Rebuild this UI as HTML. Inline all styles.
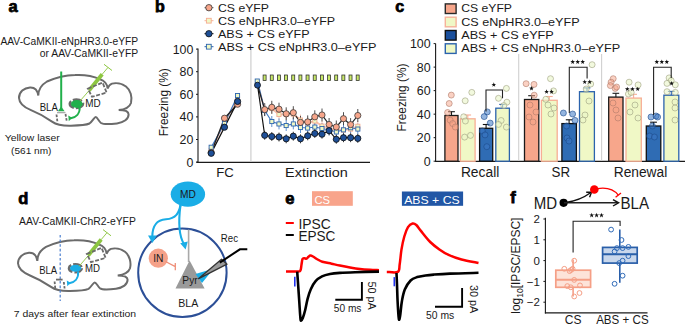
<!DOCTYPE html>
<html><head><meta charset="utf-8"><style>
html,body{margin:0;padding:0;background:#fff;width:685px;height:325px;overflow:hidden}
svg{display:block;font-family:"Liberation Sans", sans-serif}
</style></head><body>
<svg width="685" height="325" viewBox="0 0 685 325">
<text x="8.6" y="12.0" font-size="16.5" text-anchor="start" font-weight="bold" fill="#000" stroke="#000" stroke-width="0.75">a</text>
<text x="155.0" y="11.6" font-size="16" text-anchor="start" font-weight="bold" fill="#000" stroke="#000" stroke-width="0.75">b</text>
<text x="395.2" y="11.8" font-size="16" text-anchor="start" font-weight="bold" fill="#000" stroke="#000" stroke-width="0.75">c</text>
<text x="18.3" y="204.2" font-size="16.5" text-anchor="start" font-weight="bold" fill="#000" stroke="#000" stroke-width="0.75">d</text>
<text x="285.3" y="203.6" font-size="16.5" text-anchor="start" font-weight="bold" fill="#000" stroke="#000" stroke-width="0.75">e</text>
<text x="510.2" y="203.4" font-size="16.5" text-anchor="start" font-weight="bold" fill="#000" stroke="#000" stroke-width="0.75">f</text>
<text x="0.4" y="44.6" font-size="10.4" text-anchor="start" font-weight="normal" fill="#1a1a1a" textLength="137.8" lengthAdjust="spacingAndGlyphs" >AAV-CaMKII-eNpHR3.0-eYFP</text>
<text x="39.7" y="56.6" font-size="10.4" text-anchor="start" font-weight="normal" fill="#1a1a1a" textLength="98.5" lengthAdjust="spacingAndGlyphs" >or AAV-CaMKII-eYFP</text>
<path d="M38.3,95.6 C37.5,89.5 34.5,87.2 30,87.4 C24,87.8 19,92 19,98 C19.3,104 24.5,107.5 31,110.2 C38,113 46,117.5 52,121.6 C57,125.1 63,125.9 71,125.7 C80,125.5 86,125.1 89.5,123.5 C92.5,121.5 94.3,117.1 95.7,117.1 C97.2,117.1 98.8,121.3 101,123 C103.5,124.6 108,124.5 117,123.4 C124,122.5 128.6,119 128.6,114.5 C128.6,111.5 125,110.1 118.7,110.1 C124,109.6 129.5,107.5 131,103 C132.5,97 130.5,90 126,86.5 C122,83.5 116,82.5 112,83.6 C110,84.3 108.8,85.5 107.5,88.5 C107.5,84 104,80.5 99.9,79.2 C93,76 84,74.5 75,75 C65,75.3 55,78 47,81.5 C42,84.5 38.3,90 38.3,95.6 Z" fill="none" stroke="#6b6b6b" stroke-width="2"/>
<text x="39.7" y="110.9" font-size="11.3" text-anchor="start" font-weight="normal" fill="#1a1a1a" textLength="18.2" lengthAdjust="spacingAndGlyphs" >BLA</text>
<text x="85.3" y="106.5" font-size="11.6" text-anchor="start" font-weight="normal" fill="#1a1a1a" textLength="15.4" lengthAdjust="spacingAndGlyphs" >MD</text>
<line x1="61.2" y1="71.5" x2="61.2" y2="109" stroke="#21b04b" stroke-width="2"/>
<path d="M57.8,111.2 L61.2,106.5 L64.6,111.2 Z" fill="#21b04b"/>
<line x1="57" y1="112.6" x2="65.5" y2="112.6" stroke="#aaa" stroke-width="1.4"/>
<path d="M56.5,114.5 L57.5,122.5 M65.5,114 L66.8,121.5" stroke="#6b6b6b" stroke-width="1.8" stroke-dasharray="2.6,1.6" fill="none"/>
<ellipse cx="76.4" cy="103.8" rx="6.6" ry="4.2" fill="none" stroke="#6b6b6b" stroke-width="2.6" stroke-dasharray="9,2"/>
<ellipse cx="76.8" cy="104.0" rx="5.9" ry="3.9" fill="#21b04b"/>
<path d="M79.5,106.5 C80.5,113.5 76,117.5 70,118.6" stroke="#21b04b" stroke-width="2" fill="none"/>
<path d="M68.3,115.5 L68.8,121.2 L72,117.8 Z" fill="#21b04b"/>
<line x1="80" y1="101" x2="90" y2="89.5" stroke="#8dc641" stroke-width="0.9"/>
<line x1="89.2" y1="90.2" x2="102.2" y2="74.2" stroke="#8dc641" stroke-width="3.8"/>
<line x1="102" y1="74.5" x2="108" y2="67.4" stroke="#8dc641" stroke-width="0.9"/>
<line x1="104" y1="64.3" x2="112" y2="70.5" stroke="#8dc641" stroke-width="1"/>
<path d="M87.8,88.6 L102.6,82.6 L106.6,92.6 L92,96.8 Z" fill="none" stroke="#6b6b6b" stroke-width="1.8" stroke-dasharray="4,1.6"/>
<text x="4.7" y="141.1" font-size="9.7" text-anchor="start" font-weight="normal" fill="#1a1a1a" textLength="55" lengthAdjust="spacingAndGlyphs" >Yellow laser</text>
<text x="11.1" y="153.5" font-size="9.7" text-anchor="start" font-weight="normal" fill="#1a1a1a" textLength="40.3" lengthAdjust="spacingAndGlyphs" >(561 nm)</text>
<line x1="198" y1="48.60000000000001" x2="198" y2="162.6" stroke="#1a1a1a" stroke-width="1.1"/>
<line x1="196.5" y1="162.3" x2="370" y2="162.3" stroke="#1a1a1a" stroke-width="1.2"/>
<line x1="196" y1="162.10" x2="198" y2="162.10" stroke="#1a1a1a" stroke-width="1"/>
<text x="193.4" y="166.6" font-size="12.4" text-anchor="end" font-weight="normal" fill="#1a1a1a" >0</text>
<line x1="196" y1="139.50" x2="198" y2="139.50" stroke="#1a1a1a" stroke-width="1"/>
<text x="193.4" y="144.0" font-size="12.4" text-anchor="end" font-weight="normal" fill="#1a1a1a" >20</text>
<line x1="196" y1="116.90" x2="198" y2="116.90" stroke="#1a1a1a" stroke-width="1"/>
<text x="193.4" y="121.4" font-size="12.4" text-anchor="end" font-weight="normal" fill="#1a1a1a" >40</text>
<line x1="196" y1="94.30" x2="198" y2="94.30" stroke="#1a1a1a" stroke-width="1"/>
<text x="193.4" y="98.8" font-size="12.4" text-anchor="end" font-weight="normal" fill="#1a1a1a" >60</text>
<line x1="196" y1="71.70" x2="198" y2="71.70" stroke="#1a1a1a" stroke-width="1"/>
<text x="193.4" y="76.2" font-size="12.4" text-anchor="end" font-weight="normal" fill="#1a1a1a" >80</text>
<line x1="196" y1="49.10" x2="198" y2="49.10" stroke="#1a1a1a" stroke-width="1"/>
<text x="193.4" y="53.60000000000001" font-size="12.4" text-anchor="end" font-weight="normal" fill="#1a1a1a" >100</text>
<text transform="translate(167.9,102.2) rotate(-90)" font-size="12.2" text-anchor="middle" fill="#1a1a1a" textLength="68" lengthAdjust="spacingAndGlyphs">Freezing (%)</text>
<line x1="250.9" y1="49.10000000000001" x2="250.9" y2="161.5" stroke="#d2d2d2" stroke-width="1.3"/>
<text x="216.2" y="177.4" font-size="13.6" text-anchor="start" font-weight="normal" fill="#1a1a1a" textLength="17.6" lengthAdjust="spacingAndGlyphs" >FC</text>
<text x="285.1" y="177.4" font-size="13.6" text-anchor="start" font-weight="normal" fill="#1a1a1a" textLength="62.6" lengthAdjust="spacingAndGlyphs" >Extinction</text>
<line x1="204.5" y1="7.7" x2="213.5" y2="7.7" stroke="#666" stroke-width="1"/>
<circle cx="208.9" cy="7.7" r="3.2" fill="#f7a68b" stroke="#333" stroke-width="0.8"/>
<text x="218" y="11.5" font-size="11.8" text-anchor="start" font-weight="normal" fill="#1a1a1a" textLength="51" lengthAdjust="spacingAndGlyphs" >CS eYFP</text>
<line x1="204.5" y1="20.7" x2="213.5" y2="20.7" stroke="#f6b49c" stroke-width="1"/>
<rect x="206.4" y="18.3" width="4.8" height="4.8" fill="#f0f8c6" stroke="#f6ab90" stroke-width="0.9"/>
<text x="218" y="24.5" font-size="11.8" text-anchor="start" font-weight="normal" fill="#1a1a1a" textLength="117.2" lengthAdjust="spacingAndGlyphs" >CS eNpHR3.0–eYFP</text>
<line x1="204.5" y1="33.7" x2="213.5" y2="33.7" stroke="#111" stroke-width="1"/>
<circle cx="208.9" cy="33.7" r="3.2" fill="#1e4f97" stroke="#111" stroke-width="0.8"/>
<text x="218" y="37.5" font-size="11.8" text-anchor="start" font-weight="normal" fill="#1a1a1a" textLength="91.6" lengthAdjust="spacingAndGlyphs" >ABS + CS eYFP</text>
<line x1="204.5" y1="46.7" x2="213.5" y2="46.7" stroke="#2b63ad" stroke-width="1"/>
<rect x="206.4" y="44.300000000000004" width="4.8" height="4.8" fill="#f0f8c6" stroke="#2b63ad" stroke-width="0.9"/>
<text x="218" y="50.5" font-size="11.8" text-anchor="start" font-weight="normal" fill="#1a1a1a" textLength="158.5" lengthAdjust="spacingAndGlyphs" >ABS + CS eNpHR3.0–eYFP</text>
<rect x="263.1" y="75" width="3" height="5.6" fill="#c8e86a" stroke="#2a2a2a" stroke-width="0.75"/>
<rect x="270.26000000000005" y="75" width="3" height="5.6" fill="#c8e86a" stroke="#2a2a2a" stroke-width="0.75"/>
<rect x="277.42" y="75" width="3" height="5.6" fill="#c8e86a" stroke="#2a2a2a" stroke-width="0.75"/>
<rect x="284.58000000000004" y="75" width="3" height="5.6" fill="#c8e86a" stroke="#2a2a2a" stroke-width="0.75"/>
<rect x="291.74" y="75" width="3" height="5.6" fill="#c8e86a" stroke="#2a2a2a" stroke-width="0.75"/>
<rect x="298.90000000000003" y="75" width="3" height="5.6" fill="#c8e86a" stroke="#2a2a2a" stroke-width="0.75"/>
<rect x="306.06" y="75" width="3" height="5.6" fill="#c8e86a" stroke="#2a2a2a" stroke-width="0.75"/>
<rect x="313.22" y="75" width="3" height="5.6" fill="#c8e86a" stroke="#2a2a2a" stroke-width="0.75"/>
<rect x="320.38" y="75" width="3" height="5.6" fill="#c8e86a" stroke="#2a2a2a" stroke-width="0.75"/>
<rect x="327.54" y="75" width="3" height="5.6" fill="#c8e86a" stroke="#2a2a2a" stroke-width="0.75"/>
<rect x="334.70000000000005" y="75" width="3" height="5.6" fill="#c8e86a" stroke="#2a2a2a" stroke-width="0.75"/>
<rect x="341.86" y="75" width="3" height="5.6" fill="#c8e86a" stroke="#2a2a2a" stroke-width="0.75"/>
<rect x="349.02000000000004" y="75" width="3" height="5.6" fill="#c8e86a" stroke="#2a2a2a" stroke-width="0.75"/>
<rect x="356.18" y="75" width="3" height="5.6" fill="#c8e86a" stroke="#2a2a2a" stroke-width="0.75"/>
<line x1="264.7" y1="104.5" x2="264.7" y2="115.5" stroke="#f7c5b2" stroke-width="0.9"/>
<line x1="271.8" y1="103.0" x2="271.8" y2="114.0" stroke="#f7c5b2" stroke-width="0.9"/>
<line x1="279.0" y1="109.0" x2="279.0" y2="120.0" stroke="#f7c5b2" stroke-width="0.9"/>
<line x1="286.2" y1="109.0" x2="286.2" y2="120.0" stroke="#f7c5b2" stroke-width="0.9"/>
<line x1="293.3" y1="108.5" x2="293.3" y2="119.5" stroke="#f7c5b2" stroke-width="0.9"/>
<line x1="300.5" y1="114.5" x2="300.5" y2="125.5" stroke="#f7c5b2" stroke-width="0.9"/>
<line x1="307.7" y1="117.5" x2="307.7" y2="128.5" stroke="#f7c5b2" stroke-width="0.9"/>
<line x1="314.8" y1="115.5" x2="314.8" y2="126.5" stroke="#f7c5b2" stroke-width="0.9"/>
<line x1="322.0" y1="120.5" x2="322.0" y2="131.5" stroke="#f7c5b2" stroke-width="0.9"/>
<line x1="329.1" y1="122.5" x2="329.1" y2="133.5" stroke="#f7c5b2" stroke-width="0.9"/>
<line x1="336.3" y1="124.5" x2="336.3" y2="135.5" stroke="#f7c5b2" stroke-width="0.9"/>
<line x1="343.5" y1="124.5" x2="343.5" y2="135.5" stroke="#f7c5b2" stroke-width="0.9"/>
<line x1="350.6" y1="123.5" x2="350.6" y2="134.5" stroke="#f7c5b2" stroke-width="0.9"/>
<line x1="357.8" y1="120.8" x2="357.8" y2="131.8" stroke="#f7c5b2" stroke-width="0.9"/>
<line x1="264.7" y1="105.0" x2="264.7" y2="116.0" stroke="#4f86cc" stroke-width="0.9"/>
<line x1="271.8" y1="116.0" x2="271.8" y2="127.0" stroke="#4f86cc" stroke-width="0.9"/>
<line x1="279.0" y1="118.4" x2="279.0" y2="129.4" stroke="#4f86cc" stroke-width="0.9"/>
<line x1="286.2" y1="120.0" x2="286.2" y2="131.0" stroke="#4f86cc" stroke-width="0.9"/>
<line x1="293.3" y1="118.4" x2="293.3" y2="129.4" stroke="#4f86cc" stroke-width="0.9"/>
<line x1="300.5" y1="122.0" x2="300.5" y2="133.0" stroke="#4f86cc" stroke-width="0.9"/>
<line x1="307.7" y1="122.5" x2="307.7" y2="133.5" stroke="#4f86cc" stroke-width="0.9"/>
<line x1="314.8" y1="121.5" x2="314.8" y2="132.5" stroke="#4f86cc" stroke-width="0.9"/>
<line x1="322.0" y1="123.0" x2="322.0" y2="134.0" stroke="#4f86cc" stroke-width="0.9"/>
<line x1="329.1" y1="124.5" x2="329.1" y2="135.5" stroke="#4f86cc" stroke-width="0.9"/>
<line x1="336.3" y1="126.5" x2="336.3" y2="137.5" stroke="#4f86cc" stroke-width="0.9"/>
<line x1="343.5" y1="124.3" x2="343.5" y2="135.3" stroke="#4f86cc" stroke-width="0.9"/>
<line x1="350.6" y1="122.2" x2="350.6" y2="133.2" stroke="#4f86cc" stroke-width="0.9"/>
<line x1="357.8" y1="123.6" x2="357.8" y2="134.6" stroke="#4f86cc" stroke-width="0.9"/>
<line x1="264.7" y1="103.1" x2="264.7" y2="116.1" stroke="#3a3a3a" stroke-width="0.9"/>
<line x1="271.8" y1="100.8" x2="271.8" y2="113.8" stroke="#3a3a3a" stroke-width="0.9"/>
<line x1="279.0" y1="102.7" x2="279.0" y2="115.7" stroke="#3a3a3a" stroke-width="0.9"/>
<line x1="286.2" y1="107.3" x2="286.2" y2="120.3" stroke="#3a3a3a" stroke-width="0.9"/>
<line x1="293.3" y1="106.2" x2="293.3" y2="119.2" stroke="#3a3a3a" stroke-width="0.9"/>
<line x1="300.5" y1="115.9" x2="300.5" y2="128.9" stroke="#3a3a3a" stroke-width="0.9"/>
<line x1="307.7" y1="115.4" x2="307.7" y2="128.4" stroke="#3a3a3a" stroke-width="0.9"/>
<line x1="314.8" y1="110.3" x2="314.8" y2="123.3" stroke="#3a3a3a" stroke-width="0.9"/>
<line x1="322.0" y1="108.5" x2="322.0" y2="121.5" stroke="#3a3a3a" stroke-width="0.9"/>
<line x1="329.1" y1="118.0" x2="329.1" y2="131.0" stroke="#3a3a3a" stroke-width="0.9"/>
<line x1="336.3" y1="120.5" x2="336.3" y2="133.5" stroke="#3a3a3a" stroke-width="0.9"/>
<line x1="343.5" y1="112.2" x2="343.5" y2="125.2" stroke="#3a3a3a" stroke-width="0.9"/>
<line x1="350.6" y1="118.1" x2="350.6" y2="131.1" stroke="#3a3a3a" stroke-width="0.9"/>
<line x1="357.8" y1="109.0" x2="357.8" y2="122.0" stroke="#3a3a3a" stroke-width="0.9"/>
<line x1="264.7" y1="130.8" x2="264.7" y2="139.8" stroke="#333" stroke-width="0.9"/>
<line x1="271.8" y1="132.0" x2="271.8" y2="141.0" stroke="#333" stroke-width="0.9"/>
<line x1="279.0" y1="132.5" x2="279.0" y2="141.5" stroke="#333" stroke-width="0.9"/>
<line x1="286.2" y1="134.3" x2="286.2" y2="143.3" stroke="#333" stroke-width="0.9"/>
<line x1="293.3" y1="131.7" x2="293.3" y2="140.7" stroke="#333" stroke-width="0.9"/>
<line x1="300.5" y1="134.3" x2="300.5" y2="143.3" stroke="#333" stroke-width="0.9"/>
<line x1="307.7" y1="131.3" x2="307.7" y2="140.3" stroke="#333" stroke-width="0.9"/>
<line x1="314.8" y1="129.0" x2="314.8" y2="138.0" stroke="#333" stroke-width="0.9"/>
<line x1="322.0" y1="129.7" x2="322.0" y2="138.7" stroke="#333" stroke-width="0.9"/>
<line x1="329.1" y1="126.2" x2="329.1" y2="135.2" stroke="#333" stroke-width="0.9"/>
<line x1="336.3" y1="134.8" x2="336.3" y2="143.8" stroke="#333" stroke-width="0.9"/>
<line x1="343.5" y1="133.2" x2="343.5" y2="142.2" stroke="#333" stroke-width="0.9"/>
<line x1="350.6" y1="133.2" x2="350.6" y2="142.2" stroke="#333" stroke-width="0.9"/>
<line x1="357.8" y1="133.9" x2="357.8" y2="142.9" stroke="#333" stroke-width="0.9"/>
<path d="M211.2,150.5 L224.5,122.5 L237.6,98.5" fill="none" stroke="#f4b7a2" stroke-width="1.6" stroke-opacity="1"/>
<path d="M257.5,83.0 L264.7,110.0 L271.8,108.5 L279.0,114.5 L286.2,114.5 L293.3,114.0 L300.5,120.0 L307.7,123.0 L314.8,121.0 L322.0,126.0 L329.1,128.0 L336.3,130.0 L343.5,130.0 L350.6,129.0 L357.8,126.3" fill="none" stroke="#f7c0ab" stroke-width="1.8" stroke-opacity="1"/>
<path d="M211.2,147.3 L224.5,123.5 L237.6,95.5" fill="none" stroke="#3b77c2" stroke-width="1.1" stroke-opacity="1"/>
<path d="M257.5,81.0 L264.7,110.5 L271.8,121.5 L279.0,123.9 L286.2,125.5 L293.3,123.9 L300.5,127.5 L307.7,128.0 L314.8,127.0 L322.0,128.5 L329.1,130.0 L336.3,132.0 L343.5,129.8 L350.6,127.7 L357.8,129.1" fill="none" stroke="#3b77c2" stroke-width="1.1" stroke-opacity="1"/>
<path d="M211.2,152.5 L224.5,118.2 L237.6,104.2" fill="none" stroke="#222" stroke-width="1.3" stroke-opacity="1"/>
<path d="M257.5,85.0 L264.7,109.6 L271.8,107.3 L279.0,109.2 L286.2,113.8 L293.3,112.7 L300.5,122.4 L307.7,121.9 L314.8,116.8 L322.0,115.0 L329.1,124.5 L336.3,127.0 L343.5,118.7 L350.6,124.6 L357.8,115.5" fill="none" stroke="#222" stroke-width="1.2" stroke-opacity="1"/>
<path d="M211.2,153.3 L224.5,127.2 L237.6,101.4" fill="none" stroke="#111" stroke-width="1.3" stroke-opacity="1"/>
<path d="M257.5,85.0 L264.7,135.3 L271.8,136.5 L279.0,137.0 L286.2,138.8 L293.3,136.2 L300.5,138.8 L307.7,135.8 L314.8,133.5 L322.0,134.2 L329.1,130.7 L336.3,139.3 L343.5,137.7 L350.6,137.7 L357.8,138.4" fill="none" stroke="#111" stroke-width="1.2" stroke-opacity="1"/>
<rect x="262.6" y="108.0" width="4.1" height="4.1" fill="#f0f8c6" stroke="#f4a88e" stroke-width="0.9"/>
<rect x="269.8" y="106.5" width="4.1" height="4.1" fill="#f0f8c6" stroke="#f4a88e" stroke-width="0.9"/>
<rect x="276.9" y="112.5" width="4.1" height="4.1" fill="#f0f8c6" stroke="#f4a88e" stroke-width="0.9"/>
<rect x="284.1" y="112.5" width="4.1" height="4.1" fill="#f0f8c6" stroke="#f4a88e" stroke-width="0.9"/>
<rect x="291.3" y="112.0" width="4.1" height="4.1" fill="#f0f8c6" stroke="#f4a88e" stroke-width="0.9"/>
<rect x="298.4" y="118.0" width="4.1" height="4.1" fill="#f0f8c6" stroke="#f4a88e" stroke-width="0.9"/>
<rect x="305.6" y="121.0" width="4.1" height="4.1" fill="#f0f8c6" stroke="#f4a88e" stroke-width="0.9"/>
<rect x="312.8" y="119.0" width="4.1" height="4.1" fill="#f0f8c6" stroke="#f4a88e" stroke-width="0.9"/>
<rect x="319.9" y="124.0" width="4.1" height="4.1" fill="#f0f8c6" stroke="#f4a88e" stroke-width="0.9"/>
<rect x="327.1" y="126.0" width="4.1" height="4.1" fill="#f0f8c6" stroke="#f4a88e" stroke-width="0.9"/>
<rect x="334.3" y="128.0" width="4.1" height="4.1" fill="#f0f8c6" stroke="#f4a88e" stroke-width="0.9"/>
<rect x="341.4" y="128.0" width="4.1" height="4.1" fill="#f0f8c6" stroke="#f4a88e" stroke-width="0.9"/>
<rect x="348.6" y="127.0" width="4.1" height="4.1" fill="#f0f8c6" stroke="#f4a88e" stroke-width="0.9"/>
<rect x="355.8" y="124.2" width="4.1" height="4.1" fill="#f0f8c6" stroke="#f4a88e" stroke-width="0.9"/>
<rect x="262.6" y="108.5" width="4.1" height="4.1" fill="#f0f8c6" stroke="#2b63ad" stroke-width="0.9"/>
<rect x="269.8" y="119.5" width="4.1" height="4.1" fill="#f0f8c6" stroke="#2b63ad" stroke-width="0.9"/>
<rect x="276.9" y="121.9" width="4.1" height="4.1" fill="#f0f8c6" stroke="#2b63ad" stroke-width="0.9"/>
<rect x="284.1" y="123.5" width="4.1" height="4.1" fill="#f0f8c6" stroke="#2b63ad" stroke-width="0.9"/>
<rect x="291.3" y="121.9" width="4.1" height="4.1" fill="#f0f8c6" stroke="#2b63ad" stroke-width="0.9"/>
<rect x="298.4" y="125.5" width="4.1" height="4.1" fill="#f0f8c6" stroke="#2b63ad" stroke-width="0.9"/>
<rect x="305.6" y="126.0" width="4.1" height="4.1" fill="#f0f8c6" stroke="#2b63ad" stroke-width="0.9"/>
<rect x="312.8" y="125.0" width="4.1" height="4.1" fill="#f0f8c6" stroke="#2b63ad" stroke-width="0.9"/>
<rect x="319.9" y="126.5" width="4.1" height="4.1" fill="#f0f8c6" stroke="#2b63ad" stroke-width="0.9"/>
<rect x="327.1" y="128.0" width="4.1" height="4.1" fill="#f0f8c6" stroke="#2b63ad" stroke-width="0.9"/>
<rect x="334.3" y="129.9" width="4.1" height="4.1" fill="#f0f8c6" stroke="#2b63ad" stroke-width="0.9"/>
<rect x="341.4" y="127.8" width="4.1" height="4.1" fill="#f0f8c6" stroke="#2b63ad" stroke-width="0.9"/>
<rect x="348.6" y="125.7" width="4.1" height="4.1" fill="#f0f8c6" stroke="#2b63ad" stroke-width="0.9"/>
<rect x="355.8" y="127.0" width="4.1" height="4.1" fill="#f0f8c6" stroke="#2b63ad" stroke-width="0.9"/>
<circle cx="264.7" cy="109.6" r="3.1" fill="#f7a68b" stroke="#3a3a3a" stroke-width="0.8"/>
<circle cx="271.8" cy="107.3" r="3.1" fill="#f7a68b" stroke="#3a3a3a" stroke-width="0.8"/>
<circle cx="279.0" cy="109.2" r="3.1" fill="#f7a68b" stroke="#3a3a3a" stroke-width="0.8"/>
<circle cx="286.2" cy="113.8" r="3.1" fill="#f7a68b" stroke="#3a3a3a" stroke-width="0.8"/>
<circle cx="293.3" cy="112.7" r="3.1" fill="#f7a68b" stroke="#3a3a3a" stroke-width="0.8"/>
<circle cx="300.5" cy="122.4" r="3.1" fill="#f7a68b" stroke="#3a3a3a" stroke-width="0.8"/>
<circle cx="307.7" cy="121.9" r="3.1" fill="#f7a68b" stroke="#3a3a3a" stroke-width="0.8"/>
<circle cx="314.8" cy="116.8" r="3.1" fill="#f7a68b" stroke="#3a3a3a" stroke-width="0.8"/>
<circle cx="322.0" cy="115.0" r="3.1" fill="#f7a68b" stroke="#3a3a3a" stroke-width="0.8"/>
<circle cx="329.1" cy="124.5" r="3.1" fill="#f7a68b" stroke="#3a3a3a" stroke-width="0.8"/>
<circle cx="336.3" cy="127.0" r="3.1" fill="#f7a68b" stroke="#3a3a3a" stroke-width="0.8"/>
<circle cx="343.5" cy="118.7" r="3.1" fill="#f7a68b" stroke="#3a3a3a" stroke-width="0.8"/>
<circle cx="350.6" cy="124.6" r="3.1" fill="#f7a68b" stroke="#3a3a3a" stroke-width="0.8"/>
<circle cx="357.8" cy="115.5" r="3.1" fill="#f7a68b" stroke="#3a3a3a" stroke-width="0.8"/>
<circle cx="264.7" cy="135.3" r="3.1" fill="#1e4f97" stroke="#0d0d0d" stroke-width="0.8"/>
<circle cx="271.8" cy="136.5" r="3.1" fill="#1e4f97" stroke="#0d0d0d" stroke-width="0.8"/>
<circle cx="279.0" cy="137.0" r="3.1" fill="#1e4f97" stroke="#0d0d0d" stroke-width="0.8"/>
<circle cx="286.2" cy="138.8" r="3.1" fill="#1e4f97" stroke="#0d0d0d" stroke-width="0.8"/>
<circle cx="293.3" cy="136.2" r="3.1" fill="#1e4f97" stroke="#0d0d0d" stroke-width="0.8"/>
<circle cx="300.5" cy="138.8" r="3.1" fill="#1e4f97" stroke="#0d0d0d" stroke-width="0.8"/>
<circle cx="307.7" cy="135.8" r="3.1" fill="#1e4f97" stroke="#0d0d0d" stroke-width="0.8"/>
<circle cx="314.8" cy="133.5" r="3.1" fill="#1e4f97" stroke="#0d0d0d" stroke-width="0.8"/>
<circle cx="322.0" cy="134.2" r="3.1" fill="#1e4f97" stroke="#0d0d0d" stroke-width="0.8"/>
<circle cx="329.1" cy="130.7" r="3.1" fill="#1e4f97" stroke="#0d0d0d" stroke-width="0.8"/>
<circle cx="336.3" cy="139.3" r="3.1" fill="#1e4f97" stroke="#0d0d0d" stroke-width="0.8"/>
<circle cx="343.5" cy="137.7" r="3.1" fill="#1e4f97" stroke="#0d0d0d" stroke-width="0.8"/>
<circle cx="350.6" cy="137.7" r="3.1" fill="#1e4f97" stroke="#0d0d0d" stroke-width="0.8"/>
<circle cx="357.8" cy="138.4" r="3.1" fill="#1e4f97" stroke="#0d0d0d" stroke-width="0.8"/>
<rect x="209.1" y="148.4" width="4.1" height="4.1" fill="#f0f8c6" stroke="#f4a88e" stroke-width="0.9"/>
<rect x="222.4" y="120.5" width="4.1" height="4.1" fill="#f0f8c6" stroke="#f4a88e" stroke-width="0.9"/>
<rect x="235.5" y="96.5" width="4.1" height="4.1" fill="#f0f8c6" stroke="#f4a88e" stroke-width="0.9"/>
<rect x="209.1" y="145.2" width="4.1" height="4.1" fill="#f0f8c6" stroke="#2b63ad" stroke-width="0.9"/>
<rect x="222.4" y="121.5" width="4.1" height="4.1" fill="#f0f8c6" stroke="#2b63ad" stroke-width="0.9"/>
<rect x="235.5" y="93.5" width="4.1" height="4.1" fill="#f0f8c6" stroke="#2b63ad" stroke-width="0.9"/>
<circle cx="211.2" cy="152.5" r="3.1" fill="#f7a68b" stroke="#3a3a3a" stroke-width="0.8"/>
<circle cx="224.5" cy="118.2" r="3.1" fill="#f7a68b" stroke="#3a3a3a" stroke-width="0.8"/>
<circle cx="237.6" cy="104.2" r="3.1" fill="#f7a68b" stroke="#3a3a3a" stroke-width="0.8"/>
<circle cx="211.2" cy="153.3" r="3.1" fill="#1e4f97" stroke="#0d0d0d" stroke-width="0.8"/>
<circle cx="224.5" cy="127.2" r="3.1" fill="#1e4f97" stroke="#0d0d0d" stroke-width="0.8"/>
<circle cx="237.6" cy="101.4" r="3.1" fill="#1e4f97" stroke="#0d0d0d" stroke-width="0.8"/>
<rect x="255.2" y="79.0" width="4.1" height="4.1" fill="#f0f8c6" stroke="#2b63ad" stroke-width="0.9"/>
<circle cx="257.5" cy="85.2" r="3.0" fill="#1e4f97" stroke="#0d0d0d" stroke-width="0.8"/>
<line x1="435.6" y1="43.6" x2="435.6" y2="161.7" stroke="#1a1a1a" stroke-width="1.1"/>
<line x1="435.1" y1="161.4" x2="685" y2="161.4" stroke="#1a1a1a" stroke-width="1.1"/>
<line x1="433.6" y1="161.20" x2="435.6" y2="161.20" stroke="#1a1a1a" stroke-width="1"/>
<text x="430.6" y="165.7" font-size="12.4" text-anchor="end" font-weight="normal" fill="#1a1a1a" >0</text>
<line x1="433.6" y1="137.68" x2="435.6" y2="137.68" stroke="#1a1a1a" stroke-width="1"/>
<text x="430.6" y="142.17999999999998" font-size="12.4" text-anchor="end" font-weight="normal" fill="#1a1a1a" >20</text>
<line x1="433.6" y1="114.16" x2="435.6" y2="114.16" stroke="#1a1a1a" stroke-width="1"/>
<text x="430.6" y="118.66" font-size="12.4" text-anchor="end" font-weight="normal" fill="#1a1a1a" >40</text>
<line x1="433.6" y1="90.64" x2="435.6" y2="90.64" stroke="#1a1a1a" stroke-width="1"/>
<text x="430.6" y="95.13999999999999" font-size="12.4" text-anchor="end" font-weight="normal" fill="#1a1a1a" >60</text>
<line x1="433.6" y1="67.12" x2="435.6" y2="67.12" stroke="#1a1a1a" stroke-width="1"/>
<text x="430.6" y="71.61999999999999" font-size="12.4" text-anchor="end" font-weight="normal" fill="#1a1a1a" >80</text>
<line x1="433.6" y1="43.60" x2="435.6" y2="43.60" stroke="#1a1a1a" stroke-width="1"/>
<text x="430.6" y="48.099999999999994" font-size="12.4" text-anchor="end" font-weight="normal" fill="#1a1a1a" >100</text>
<text transform="translate(405.5,97.5) rotate(-90)" font-size="12.2" text-anchor="middle" fill="#1a1a1a" textLength="68" lengthAdjust="spacingAndGlyphs">Freezing (%)</text>
<line x1="518.7" y1="54" x2="518.7" y2="160.6" stroke="#d0d0d0" stroke-width="1.1"/>
<line x1="601.6" y1="54" x2="601.6" y2="160.6" stroke="#d0d0d0" stroke-width="1.1"/>
<text x="460.9" y="177.4" font-size="14" text-anchor="start" font-weight="normal" fill="#1a1a1a" textLength="38.4" lengthAdjust="spacingAndGlyphs" >Recall</text>
<text x="551.5" y="177.4" font-size="14" text-anchor="start" font-weight="normal" fill="#1a1a1a" textLength="18.5" lengthAdjust="spacingAndGlyphs" >SR</text>
<text x="613.7" y="177.4" font-size="14" text-anchor="start" font-weight="normal" fill="#1a1a1a" textLength="53.6" lengthAdjust="spacingAndGlyphs" >Renewal</text>
<rect x="445.3" y="3.9" width="10.8" height="9.6" fill="#f7a68b" stroke="#2a2a2a" stroke-width="1.4"/>
<text x="461.2" y="12.3" font-size="11.8" text-anchor="start" font-weight="normal" fill="#1a1a1a" textLength="50.8" lengthAdjust="spacingAndGlyphs" >CS eYFP</text>
<rect x="445.3" y="17.2" width="10.8" height="9.6" fill="#f0f8c6" stroke="#f6b29a" stroke-width="1.4"/>
<text x="461.2" y="25.6" font-size="11.8" text-anchor="start" font-weight="normal" fill="#1a1a1a" textLength="118.4" lengthAdjust="spacingAndGlyphs" >CS eNpHR3.0–eYFP</text>
<rect x="445.3" y="30.5" width="10.8" height="9.6" fill="#1a4f9c" stroke="#111" stroke-width="1.4"/>
<text x="461.2" y="38.9" font-size="11.8" text-anchor="start" font-weight="normal" fill="#1a1a1a" textLength="92.6" lengthAdjust="spacingAndGlyphs" >ABS + CS eYFP</text>
<rect x="445.3" y="43.800000000000004" width="10.8" height="9.6" fill="#f0f8c6" stroke="#2b63ad" stroke-width="1.4"/>
<text x="461.2" y="52.2" font-size="11.8" text-anchor="start" font-weight="normal" fill="#1a1a1a" textLength="159" lengthAdjust="spacingAndGlyphs" >ABS + CS eNpHR3.0–eYFP</text>
<rect x="444.9" y="115.5" width="13.1" height="45.7" fill="#f7a68b" stroke="#1a1a1a" stroke-width="1.3"/>
<line x1="451.5" y1="111.7" x2="451.5" y2="115.5" stroke="#1a1a1a" stroke-width="1.1"/>
<line x1="448.1" y1="111.7" x2="454.9" y2="111.7" stroke="#1a1a1a" stroke-width="1.1"/>
<rect x="460.4" y="118.8" width="14.7" height="42.4" fill="#f0f8c6" stroke="#f7ae95" stroke-width="1.3"/>
<line x1="467.8" y1="115.0" x2="467.8" y2="118.8" stroke="#f7ae95" stroke-width="1.1"/>
<line x1="464.4" y1="115.0" x2="471.1" y2="115.0" stroke="#f7ae95" stroke-width="1.1"/>
<rect x="479.6" y="128.3" width="13.1" height="32.9" fill="#2f6cb4" stroke="#111" stroke-width="1.3"/>
<line x1="486.1" y1="124.5" x2="486.1" y2="128.3" stroke="#111" stroke-width="1.1"/>
<line x1="482.8" y1="124.5" x2="489.5" y2="124.5" stroke="#111" stroke-width="1.1"/>
<rect x="495.8" y="108.2" width="13.6" height="53.0" fill="#f0f8c6" stroke="#2b63ad" stroke-width="1.3"/>
<line x1="502.6" y1="104.4" x2="502.6" y2="108.2" stroke="#2b63ad" stroke-width="1.1"/>
<line x1="499.2" y1="104.4" x2="506.0" y2="104.4" stroke="#2b63ad" stroke-width="1.1"/>
<circle cx="451.3" cy="95.1" r="3.0" fill="#f6a488" fill-opacity="0.5" stroke="#b07a6a" stroke-opacity="0.75" stroke-width="0.8"/>
<circle cx="449.2" cy="103.5" r="3.0" fill="#f6a488" fill-opacity="0.5" stroke="#b07a6a" stroke-opacity="0.75" stroke-width="0.8"/>
<circle cx="447.6" cy="112.5" r="3.0" fill="#f6a488" fill-opacity="0.5" stroke="#b07a6a" stroke-opacity="0.75" stroke-width="0.8"/>
<circle cx="450.2" cy="120.2" r="3.0" fill="#f6a488" fill-opacity="0.5" stroke="#b07a6a" stroke-opacity="0.75" stroke-width="0.8"/>
<circle cx="452.7" cy="123.6" r="3.0" fill="#f6a488" fill-opacity="0.5" stroke="#b07a6a" stroke-opacity="0.75" stroke-width="0.8"/>
<circle cx="455.3" cy="127" r="3.0" fill="#f6a488" fill-opacity="0.5" stroke="#b07a6a" stroke-opacity="0.75" stroke-width="0.8"/>
<circle cx="471.8" cy="92.4" r="3.0" fill="#e9f5c8" fill-opacity="0.6" stroke="#9da080" stroke-opacity="0.75" stroke-width="0.8"/>
<circle cx="465.2" cy="100.8" r="3.0" fill="#e9f5c8" fill-opacity="0.6" stroke="#9da080" stroke-opacity="0.75" stroke-width="0.8"/>
<circle cx="463.7" cy="116.8" r="3.0" fill="#e9f5c8" fill-opacity="0.6" stroke="#9da080" stroke-opacity="0.75" stroke-width="0.8"/>
<circle cx="465.4" cy="121" r="3.0" fill="#e9f5c8" fill-opacity="0.6" stroke="#9da080" stroke-opacity="0.75" stroke-width="0.8"/>
<circle cx="470.5" cy="135.4" r="3.0" fill="#e9f5c8" fill-opacity="0.6" stroke="#9da080" stroke-opacity="0.75" stroke-width="0.8"/>
<circle cx="464.6" cy="137.1" r="3.0" fill="#e9f5c8" fill-opacity="0.6" stroke="#9da080" stroke-opacity="0.75" stroke-width="0.8"/>
<circle cx="487.3" cy="111.9" r="3.0" fill="#3d78c4" fill-opacity="0.55" stroke="#1d4a8a" stroke-opacity="0.75" stroke-width="0.8"/>
<circle cx="484.2" cy="116.6" r="3.0" fill="#3d78c4" fill-opacity="0.55" stroke="#1d4a8a" stroke-opacity="0.75" stroke-width="0.8"/>
<circle cx="490.2" cy="123.1" r="3.0" fill="#3d78c4" fill-opacity="0.55" stroke="#1d4a8a" stroke-opacity="0.75" stroke-width="0.8"/>
<circle cx="482.3" cy="131" r="3.0" fill="#3d78c4" fill-opacity="0.55" stroke="#1d4a8a" stroke-opacity="0.75" stroke-width="0.8"/>
<circle cx="485" cy="134.9" r="3.0" fill="#3d78c4" fill-opacity="0.55" stroke="#1d4a8a" stroke-opacity="0.75" stroke-width="0.8"/>
<circle cx="486.8" cy="146.7" r="3.0" fill="#3d78c4" fill-opacity="0.55" stroke="#1d4a8a" stroke-opacity="0.75" stroke-width="0.8"/>
<circle cx="506.4" cy="88.4" r="3.0" fill="#e9f5c8" fill-opacity="0.6" stroke="#9da080" stroke-opacity="0.75" stroke-width="0.8"/>
<circle cx="498.5" cy="98.3" r="3.0" fill="#e9f5c8" fill-opacity="0.6" stroke="#9da080" stroke-opacity="0.75" stroke-width="0.8"/>
<circle cx="506.9" cy="102.2" r="3.0" fill="#e9f5c8" fill-opacity="0.6" stroke="#9da080" stroke-opacity="0.75" stroke-width="0.8"/>
<circle cx="503.8" cy="105.6" r="3.0" fill="#e9f5c8" fill-opacity="0.6" stroke="#9da080" stroke-opacity="0.75" stroke-width="0.8"/>
<circle cx="501.1" cy="120.5" r="3.0" fill="#e9f5c8" fill-opacity="0.6" stroke="#9da080" stroke-opacity="0.75" stroke-width="0.8"/>
<circle cx="498.5" cy="124.4" r="3.0" fill="#e9f5c8" fill-opacity="0.6" stroke="#9da080" stroke-opacity="0.75" stroke-width="0.8"/>
<circle cx="506.4" cy="127.1" r="3.0" fill="#e9f5c8" fill-opacity="0.6" stroke="#9da080" stroke-opacity="0.75" stroke-width="0.8"/>
<rect x="524.5" y="99.5" width="14.3" height="61.7" fill="#f7a68b" stroke="#1a1a1a" stroke-width="1.3"/>
<line x1="531.6" y1="95.7" x2="531.6" y2="99.5" stroke="#1a1a1a" stroke-width="1.1"/>
<line x1="528.2" y1="95.7" x2="535.0" y2="95.7" stroke="#1a1a1a" stroke-width="1.1"/>
<rect x="541.4" y="100.3" width="15.8" height="60.9" fill="#f0f8c6" stroke="#f7ae95" stroke-width="1.3"/>
<line x1="549.3" y1="96.5" x2="549.3" y2="100.3" stroke="#f7ae95" stroke-width="1.1"/>
<line x1="545.9" y1="96.5" x2="552.7" y2="96.5" stroke="#f7ae95" stroke-width="1.1"/>
<rect x="561.9" y="123.6" width="14.5" height="37.6" fill="#2f6cb4" stroke="#111" stroke-width="1.3"/>
<line x1="569.1" y1="119.8" x2="569.1" y2="123.6" stroke="#111" stroke-width="1.1"/>
<line x1="565.8" y1="119.8" x2="572.5" y2="119.8" stroke="#111" stroke-width="1.1"/>
<rect x="579.5" y="91.7" width="14.9" height="69.5" fill="#f0f8c6" stroke="#2b63ad" stroke-width="1.3"/>
<line x1="587.0" y1="87.9" x2="587.0" y2="91.7" stroke="#2b63ad" stroke-width="1.1"/>
<line x1="583.6" y1="87.9" x2="590.4" y2="87.9" stroke="#2b63ad" stroke-width="1.1"/>
<circle cx="526.1" cy="83.7" r="3.0" fill="#f6a488" fill-opacity="0.5" stroke="#b07a6a" stroke-opacity="0.75" stroke-width="0.8"/>
<circle cx="534" cy="84.4" r="3.0" fill="#f6a488" fill-opacity="0.5" stroke="#b07a6a" stroke-opacity="0.75" stroke-width="0.8"/>
<circle cx="534.2" cy="95.2" r="3.0" fill="#f6a488" fill-opacity="0.5" stroke="#b07a6a" stroke-opacity="0.75" stroke-width="0.8"/>
<circle cx="530" cy="105" r="3.0" fill="#f6a488" fill-opacity="0.5" stroke="#b07a6a" stroke-opacity="0.75" stroke-width="0.8"/>
<circle cx="536" cy="112" r="3.0" fill="#f6a488" fill-opacity="0.5" stroke="#b07a6a" stroke-opacity="0.75" stroke-width="0.8"/>
<circle cx="529" cy="117" r="3.0" fill="#f6a488" fill-opacity="0.5" stroke="#b07a6a" stroke-opacity="0.75" stroke-width="0.8"/>
<circle cx="533" cy="122" r="3.0" fill="#f6a488" fill-opacity="0.5" stroke="#b07a6a" stroke-opacity="0.75" stroke-width="0.8"/>
<circle cx="550.5" cy="78.7" r="3.0" fill="#e9f5c8" fill-opacity="0.6" stroke="#9da080" stroke-opacity="0.75" stroke-width="0.8"/>
<circle cx="553.5" cy="90.9" r="3.0" fill="#e9f5c8" fill-opacity="0.6" stroke="#9da080" stroke-opacity="0.75" stroke-width="0.8"/>
<circle cx="545.8" cy="99.3" r="3.0" fill="#e9f5c8" fill-opacity="0.6" stroke="#9da080" stroke-opacity="0.75" stroke-width="0.8"/>
<circle cx="548" cy="105" r="3.0" fill="#e9f5c8" fill-opacity="0.6" stroke="#9da080" stroke-opacity="0.75" stroke-width="0.8"/>
<circle cx="554" cy="108" r="3.0" fill="#e9f5c8" fill-opacity="0.6" stroke="#9da080" stroke-opacity="0.75" stroke-width="0.8"/>
<circle cx="551" cy="114" r="3.0" fill="#e9f5c8" fill-opacity="0.6" stroke="#9da080" stroke-opacity="0.75" stroke-width="0.8"/>
<circle cx="563.4" cy="113" r="3.0" fill="#3d78c4" fill-opacity="0.55" stroke="#1d4a8a" stroke-opacity="0.75" stroke-width="0.8"/>
<circle cx="572.6" cy="114" r="3.0" fill="#3d78c4" fill-opacity="0.55" stroke="#1d4a8a" stroke-opacity="0.75" stroke-width="0.8"/>
<circle cx="575" cy="120.4" r="3.0" fill="#3d78c4" fill-opacity="0.55" stroke="#1d4a8a" stroke-opacity="0.75" stroke-width="0.8"/>
<circle cx="566.6" cy="126" r="3.0" fill="#3d78c4" fill-opacity="0.55" stroke="#1d4a8a" stroke-opacity="0.75" stroke-width="0.8"/>
<circle cx="567" cy="138" r="3.0" fill="#3d78c4" fill-opacity="0.55" stroke="#1d4a8a" stroke-opacity="0.75" stroke-width="0.8"/>
<circle cx="569" cy="141" r="3.0" fill="#3d78c4" fill-opacity="0.55" stroke="#1d4a8a" stroke-opacity="0.75" stroke-width="0.8"/>
<circle cx="592.1" cy="64.7" r="3.0" fill="#e9f5c8" fill-opacity="0.6" stroke="#9da080" stroke-opacity="0.75" stroke-width="0.8"/>
<circle cx="590.7" cy="84" r="3.0" fill="#e9f5c8" fill-opacity="0.6" stroke="#9da080" stroke-opacity="0.75" stroke-width="0.8"/>
<circle cx="586.2" cy="89" r="3.0" fill="#e9f5c8" fill-opacity="0.6" stroke="#9da080" stroke-opacity="0.75" stroke-width="0.8"/>
<circle cx="585" cy="115" r="3.0" fill="#e9f5c8" fill-opacity="0.6" stroke="#9da080" stroke-opacity="0.75" stroke-width="0.8"/>
<circle cx="589" cy="101" r="3.0" fill="#e9f5c8" fill-opacity="0.6" stroke="#9da080" stroke-opacity="0.75" stroke-width="0.8"/>
<circle cx="583" cy="120" r="3.0" fill="#e9f5c8" fill-opacity="0.6" stroke="#9da080" stroke-opacity="0.75" stroke-width="0.8"/>
<rect x="608.7" y="97.1" width="14.3" height="64.1" fill="#f7a68b" stroke="#1a1a1a" stroke-width="1.3"/>
<line x1="615.9" y1="93.3" x2="615.9" y2="97.1" stroke="#1a1a1a" stroke-width="1.1"/>
<line x1="612.5" y1="93.3" x2="619.2" y2="93.3" stroke="#1a1a1a" stroke-width="1.1"/>
<rect x="626.0" y="98.1" width="15.3" height="63.1" fill="#f0f8c6" stroke="#f7ae95" stroke-width="1.3"/>
<line x1="633.6" y1="94.3" x2="633.6" y2="98.1" stroke="#f7ae95" stroke-width="1.1"/>
<line x1="630.2" y1="94.3" x2="637.0" y2="94.3" stroke="#f7ae95" stroke-width="1.1"/>
<rect x="646.3" y="126.0" width="14.5" height="35.2" fill="#2f6cb4" stroke="#111" stroke-width="1.3"/>
<line x1="653.5" y1="122.2" x2="653.5" y2="126.0" stroke="#111" stroke-width="1.1"/>
<line x1="650.1" y1="122.2" x2="656.9" y2="122.2" stroke="#111" stroke-width="1.1"/>
<rect x="663.9" y="95.2" width="14.9" height="66.0" fill="#f0f8c6" stroke="#2b63ad" stroke-width="1.3"/>
<line x1="671.3" y1="91.4" x2="671.3" y2="95.2" stroke="#2b63ad" stroke-width="1.1"/>
<line x1="667.9" y1="91.4" x2="674.7" y2="91.4" stroke="#2b63ad" stroke-width="1.1"/>
<circle cx="613.2" cy="78.7" r="3.0" fill="#f6a488" fill-opacity="0.5" stroke="#b07a6a" stroke-opacity="0.75" stroke-width="0.8"/>
<circle cx="611.1" cy="82.2" r="3.0" fill="#f6a488" fill-opacity="0.5" stroke="#b07a6a" stroke-opacity="0.75" stroke-width="0.8"/>
<circle cx="610.4" cy="85.6" r="3.0" fill="#f6a488" fill-opacity="0.5" stroke="#b07a6a" stroke-opacity="0.75" stroke-width="0.8"/>
<circle cx="615.2" cy="88.4" r="3.0" fill="#f6a488" fill-opacity="0.5" stroke="#b07a6a" stroke-opacity="0.75" stroke-width="0.8"/>
<circle cx="616.6" cy="87" r="3.0" fill="#f6a488" fill-opacity="0.5" stroke="#b07a6a" stroke-opacity="0.75" stroke-width="0.8"/>
<circle cx="613" cy="103" r="3.0" fill="#f6a488" fill-opacity="0.5" stroke="#b07a6a" stroke-opacity="0.75" stroke-width="0.8"/>
<circle cx="616" cy="110" r="3.0" fill="#f6a488" fill-opacity="0.5" stroke="#b07a6a" stroke-opacity="0.75" stroke-width="0.8"/>
<circle cx="618" cy="118" r="3.0" fill="#f6a488" fill-opacity="0.5" stroke="#b07a6a" stroke-opacity="0.75" stroke-width="0.8"/>
<circle cx="629.1" cy="82.2" r="3.0" fill="#e9f5c8" fill-opacity="0.6" stroke="#9da080" stroke-opacity="0.75" stroke-width="0.8"/>
<circle cx="638.1" cy="84.9" r="3.0" fill="#e9f5c8" fill-opacity="0.6" stroke="#9da080" stroke-opacity="0.75" stroke-width="0.8"/>
<circle cx="628.4" cy="94" r="3.0" fill="#e9f5c8" fill-opacity="0.6" stroke="#9da080" stroke-opacity="0.75" stroke-width="0.8"/>
<circle cx="631.2" cy="92.5" r="3.0" fill="#e9f5c8" fill-opacity="0.6" stroke="#9da080" stroke-opacity="0.75" stroke-width="0.8"/>
<circle cx="635" cy="105" r="3.0" fill="#e9f5c8" fill-opacity="0.6" stroke="#9da080" stroke-opacity="0.75" stroke-width="0.8"/>
<circle cx="630" cy="112" r="3.0" fill="#e9f5c8" fill-opacity="0.6" stroke="#9da080" stroke-opacity="0.75" stroke-width="0.8"/>
<circle cx="638" cy="118" r="3.0" fill="#e9f5c8" fill-opacity="0.6" stroke="#9da080" stroke-opacity="0.75" stroke-width="0.8"/>
<circle cx="651" cy="117" r="3.0" fill="#3d78c4" fill-opacity="0.55" stroke="#1d4a8a" stroke-opacity="0.75" stroke-width="0.8"/>
<circle cx="656" cy="116" r="3.0" fill="#3d78c4" fill-opacity="0.55" stroke="#1d4a8a" stroke-opacity="0.75" stroke-width="0.8"/>
<circle cx="657.6" cy="117" r="3.0" fill="#3d78c4" fill-opacity="0.55" stroke="#1d4a8a" stroke-opacity="0.75" stroke-width="0.8"/>
<circle cx="649.6" cy="136" r="3.0" fill="#3d78c4" fill-opacity="0.55" stroke="#1d4a8a" stroke-opacity="0.75" stroke-width="0.8"/>
<circle cx="654.4" cy="137" r="3.0" fill="#3d78c4" fill-opacity="0.55" stroke="#1d4a8a" stroke-opacity="0.75" stroke-width="0.8"/>
<circle cx="652.4" cy="126" r="3.0" fill="#3d78c4" fill-opacity="0.55" stroke="#1d4a8a" stroke-opacity="0.75" stroke-width="0.8"/>
<circle cx="669.1" cy="77.9" r="3.0" fill="#e9f5c8" fill-opacity="0.6" stroke="#9da080" stroke-opacity="0.75" stroke-width="0.8"/>
<circle cx="671.2" cy="80.6" r="3.0" fill="#e9f5c8" fill-opacity="0.6" stroke="#9da080" stroke-opacity="0.75" stroke-width="0.8"/>
<circle cx="667" cy="83.4" r="3.0" fill="#e9f5c8" fill-opacity="0.6" stroke="#9da080" stroke-opacity="0.75" stroke-width="0.8"/>
<circle cx="675.3" cy="84.8" r="3.0" fill="#e9f5c8" fill-opacity="0.6" stroke="#9da080" stroke-opacity="0.75" stroke-width="0.8"/>
<circle cx="667" cy="91.7" r="3.0" fill="#e9f5c8" fill-opacity="0.6" stroke="#9da080" stroke-opacity="0.75" stroke-width="0.8"/>
<circle cx="675.3" cy="92.4" r="3.0" fill="#e9f5c8" fill-opacity="0.6" stroke="#9da080" stroke-opacity="0.75" stroke-width="0.8"/>
<circle cx="675" cy="102" r="3.0" fill="#e9f5c8" fill-opacity="0.6" stroke="#9da080" stroke-opacity="0.75" stroke-width="0.8"/>
<circle cx="675" cy="108" r="3.0" fill="#e9f5c8" fill-opacity="0.6" stroke="#9da080" stroke-opacity="0.75" stroke-width="0.8"/>
<circle cx="675" cy="120" r="3.0" fill="#e9f5c8" fill-opacity="0.6" stroke="#9da080" stroke-opacity="0.75" stroke-width="0.8"/>
<path d="M486,111.4 L486,90 L502.5,90 L502.5,98.3" fill="none" stroke="#222" stroke-width="1.1"/>
<polygon points="493.80,82.25 494.39,83.89 496.13,83.94 494.75,85.01 495.24,86.68 493.80,85.70 492.36,86.68 492.85,85.01 491.47,83.94 493.21,83.89" fill="#111"/>
<path d="M569.3,113 L569.3,67.3 L587.1,67.3 L587.1,78.5" fill="none" stroke="#222" stroke-width="1.1"/>
<polygon points="572.70,59.45 573.29,61.09 575.03,61.14 573.65,62.21 574.14,63.88 572.70,62.90 571.26,63.88 571.75,62.21 570.37,61.14 572.11,61.09" fill="#111"/>
<polygon points="577.70,59.45 578.29,61.09 580.03,61.14 578.65,62.21 579.14,63.88 577.70,62.90 576.26,63.88 576.75,62.21 575.37,61.14 577.11,61.09" fill="#111"/>
<polygon points="582.70,59.45 583.29,61.09 585.03,61.14 583.65,62.21 584.14,63.88 582.70,62.90 581.26,63.88 581.75,62.21 580.37,61.14 582.11,61.09" fill="#111"/>
<path d="M653.6,115 L653.6,67.3 L671.2,67.3 L671.2,77.9" fill="none" stroke="#222" stroke-width="1.1"/>
<polygon points="656.80,59.45 657.39,61.09 659.13,61.14 657.75,62.21 658.24,63.88 656.80,62.90 655.36,63.88 655.85,62.21 654.47,61.14 656.21,61.09" fill="#111"/>
<polygon points="661.80,59.45 662.39,61.09 664.13,61.14 662.75,62.21 663.24,63.88 661.80,62.90 660.36,63.88 660.85,62.21 659.47,61.14 661.21,61.09" fill="#111"/>
<polygon points="666.80,59.45 667.39,61.09 669.13,61.14 667.75,62.21 668.24,63.88 666.80,62.90 665.36,63.88 665.85,62.21 664.47,61.14 666.21,61.09" fill="#111"/>
<polygon points="531.50,85.95 532.09,87.59 533.83,87.64 532.45,88.71 532.94,90.38 531.50,89.40 530.06,90.38 530.55,88.71 529.17,87.64 530.91,87.59" fill="#111"/>
<polygon points="546.60,89.35 547.19,90.99 548.93,91.04 547.55,92.11 548.04,93.78 546.60,92.80 545.16,93.78 545.65,92.11 544.27,91.04 546.01,90.99" fill="#111"/>
<polygon points="551.60,89.35 552.19,90.99 553.93,91.04 552.55,92.11 553.04,93.78 551.60,92.80 550.16,93.78 550.65,92.11 549.27,91.04 551.01,90.99" fill="#111"/>
<polygon points="584.70,79.55 585.29,81.19 587.03,81.24 585.65,82.31 586.14,83.98 584.70,83.00 583.26,83.98 583.75,82.31 582.37,81.24 584.11,81.19" fill="#111"/>
<polygon points="589.70,79.55 590.29,81.19 592.03,81.24 590.65,82.31 591.14,83.98 589.70,83.00 588.26,83.98 588.75,82.31 587.37,81.24 589.11,81.19" fill="#111"/>
<polygon points="627.30,86.65 627.89,88.29 629.63,88.34 628.25,89.41 628.74,91.08 627.30,90.10 625.86,91.08 626.35,89.41 624.97,88.34 626.71,88.29" fill="#111"/>
<polygon points="632.50,86.65 633.09,88.29 634.83,88.34 633.45,89.41 633.94,91.08 632.50,90.10 631.06,91.08 631.55,89.41 630.17,88.34 631.91,88.29" fill="#111"/>
<polygon points="637.70,86.65 638.29,88.29 640.03,88.34 638.65,89.41 639.14,91.08 637.70,90.10 636.26,91.08 636.75,89.41 635.37,88.34 637.11,88.29" fill="#111"/>
<polygon points="671.60,80.95 672.19,82.59 673.93,82.64 672.55,83.71 673.04,85.38 671.60,84.40 670.16,85.38 670.65,83.71 669.27,82.64 671.01,82.59" fill="#111"/>
<text x="19.1" y="225.1" font-size="10.6" text-anchor="start" font-weight="normal" fill="#1a1a1a" textLength="116.7" lengthAdjust="spacingAndGlyphs" >AAV-CaMKII-ChR2-eYFP</text>
<g transform="translate(-1,165.3)"><path d="M38.3,95.6 C37.5,89.5 34.5,87.2 30,87.4 C24,87.8 19,92 19,98 C19.3,104 24.5,107.5 31,110.2 C38,113 46,117.5 52,121.6 C57,125.1 63,125.9 71,125.7 C80,125.5 86,125.1 89.5,123.5 C92.5,121.5 94.3,117.1 95.7,117.1 C97.2,117.1 98.8,121.3 101,123 C103.5,124.6 108,124.5 117,123.4 C124,122.5 128.6,119 128.6,114.5 C128.6,111.5 125,110.1 118.7,110.1 C124,109.6 129.5,107.5 131,103 C132.5,97 130.5,90 126,86.5 C122,83.5 116,82.5 112,83.6 C110,84.3 108.8,85.5 107.5,88.5 C107.5,84 104,80.5 99.9,79.2 C93,76 84,74.5 75,75 C65,75.3 55,78 47,81.5 C42,84.5 38.3,90 38.3,95.6 Z" fill="none" stroke="#6b6b6b" stroke-width="2"/></g>
<line x1="60.2" y1="235" x2="60.2" y2="301" stroke="#4a7fd0" stroke-width="1.2" stroke-dasharray="2.6,2"/>
<text x="39.2" y="274.4" font-size="11.0" text-anchor="start" font-weight="normal" fill="#1a1a1a" textLength="18.0" lengthAdjust="spacingAndGlyphs" >BLA</text>
<text x="85.0" y="272.3" font-size="11.2" text-anchor="start" font-weight="normal" fill="#1a1a1a" textLength="15.0" lengthAdjust="spacingAndGlyphs" >MD</text>
<ellipse cx="75.4" cy="268.2" rx="6.4" ry="4.0" fill="none" stroke="#6b6b6b" stroke-width="2.6" stroke-dasharray="9,2"/>
<ellipse cx="75.6" cy="268.3" rx="5.6" ry="3.5" fill="#1aade6"/>
<path d="M78,271.5 C79,278.5 74.5,282.5 68.5,283.6" stroke="#1aade6" stroke-width="2" fill="none"/>
<path d="M66.8,280.5 L67.3,286.2 L70.5,282.8 Z" fill="#1aade6"/>
<path d="M54.6,281.5 L55.2,288 M63.8,282 L64.6,288.5" stroke="#6b6b6b" stroke-width="1.8" stroke-dasharray="2.6,1.6" fill="none"/>
<line x1="56" y1="279.6" x2="62.6" y2="279.6" stroke="#6b6b6b" stroke-width="1.8"/>
<line x1="79" y1="266.3" x2="89" y2="254.8" stroke="#8dc641" stroke-width="0.9"/>
<line x1="88.2" y1="255.5" x2="101.2" y2="239.5" stroke="#8dc641" stroke-width="3.8"/>
<line x1="101" y1="239.8" x2="107" y2="232.7" stroke="#8dc641" stroke-width="0.9"/>
<line x1="103" y1="229.6" x2="111" y2="235.8" stroke="#8dc641" stroke-width="1"/>
<path d="M86.8,253.9 L101.6,247.9 L105.6,257.9 L91,262.1 Z" fill="none" stroke="#6b6b6b" stroke-width="1.8" stroke-dasharray="4,1.6"/>
<text x="13.8" y="317.3" font-size="9.9" text-anchor="start" font-weight="normal" fill="#1a1a1a" textLength="122.3" lengthAdjust="spacingAndGlyphs" >7 days after fear extinction</text>
<circle cx="182.4" cy="272.7" r="44.2" fill="none" stroke="#2c4f97" stroke-width="2"/>
<ellipse cx="187.9" cy="194.2" rx="17.2" ry="12.6" fill="#1aade6"/>
<text x="187.9" y="197.8" font-size="10.2" text-anchor="middle" font-weight="normal" fill="#1a1a1a" >MD</text>
<path d="M180.5,205 C179,213 176,218.5 166,219.3 C156,220 152.3,226 152.3,237" fill="none" stroke="#1aade6" stroke-width="2.1"/>
<path d="M148,235.5 L152.4,243 L156.8,235.5 Z" fill="#1aade6"/>
<path d="M180.5,205 C178.5,220 179,236 184,244" fill="none" stroke="#1aade6" stroke-width="2.1"/>
<path d="M180.2,243.2 L185.6,249.6 L187.8,241.6 Z" fill="#1aade6"/>
<line x1="188.6" y1="229.5" x2="188.6" y2="262" stroke="#a9a9a9" stroke-width="1.6"/>
<path d="M189.6,260.5 L175.5,288.6 L204.6,288.6 Z" fill="#9a9a9a"/>
<text x="190" y="283.8" font-size="10.2" text-anchor="middle" font-weight="normal" fill="#1a1a1a" >Pyr</text>
<circle cx="158.3" cy="258.2" r="9.6" fill="#f5a189"/>
<text x="158.3" y="261.8" font-size="10.2" text-anchor="middle" font-weight="normal" fill="#1a1a1a" >IN</text>
<path d="M165.5,261.5 L175.3,266.6 M175.3,263 L175.3,270.2" stroke="#ef8f79" stroke-width="1.3" fill="none"/>
<path d="M195.5,274 L213.8,268.4 L202,283 Z" fill="#1aade6"/>
<path d="M198.7,278.6 L221.5,259.2 L227,264.2 Z" fill="#9a9a9a" stroke="#333" stroke-width="1.3" stroke-linejoin="round"/>
<path d="M219.8,262.6 L239.9,249.3 L247.3,249.3" fill="none" stroke="#000" stroke-width="2"/>
<text x="220.8" y="242.2" font-size="10.2" text-anchor="start" font-weight="normal" fill="#1a1a1a" textLength="17.2" lengthAdjust="spacingAndGlyphs" >Rec</text>
<text x="188.2" y="307.0" font-size="10.6" text-anchor="middle" font-weight="normal" fill="#1a1a1a" >BLA</text>
<rect x="312" y="191.2" width="40.8" height="14.6" fill="#f8a48b"/>
<text x="314.5" y="203.5" font-size="11.2" text-anchor="start" font-weight="normal" fill="#fff" >CS</text>
<rect x="401.9" y="191.5" width="61.2" height="14.3" fill="#2156a5"/>
<text x="404.2" y="203.5" font-size="11.8" text-anchor="start" font-weight="normal" fill="#fff" textLength="55.5" lengthAdjust="spacingAndGlyphs" >ABS + CS</text>
<line x1="285.8" y1="223" x2="293.8" y2="223" stroke="#fe0000" stroke-width="2"/>
<text x="298.4" y="228.6" font-size="14.6" text-anchor="start" font-weight="normal" fill="#1a1a1a" textLength="32.3" lengthAdjust="spacingAndGlyphs" >IPSC</text>
<line x1="285.8" y1="235" x2="293.8" y2="235" stroke="#000" stroke-width="2"/>
<text x="298.4" y="240.5" font-size="14.6" text-anchor="start" font-weight="normal" fill="#1a1a1a" textLength="37" lengthAdjust="spacingAndGlyphs" >EPSC</text>
<path d="M286.00,271.50 C288.05,271.50 295.87,271.73 298.30,271.50 C300.73,271.27 300.07,271.25 300.60,270.10 C301.13,268.95 301.18,266.43 301.50,264.60 C301.82,262.77 302.03,260.15 302.50,259.10 C302.97,258.05 303.62,258.38 304.30,258.30 C304.98,258.22 305.90,258.85 306.60,258.60 C307.30,258.35 307.88,257.30 308.50,256.80 C309.12,256.30 309.55,255.65 310.30,255.60 C311.05,255.55 311.77,255.85 313.00,256.50 C314.23,257.15 316.15,258.63 317.70,259.50 C319.25,260.37 320.00,261.00 322.30,261.70 C324.60,262.40 328.58,263.07 331.50,263.70 C334.42,264.33 336.72,264.87 339.80,265.50 C342.88,266.13 346.63,266.92 350.00,267.50 C353.37,268.08 356.67,268.62 360.00,269.00 C363.33,269.38 366.83,269.60 370.00,269.80 C373.17,270.00 377.50,270.13 379.00,270.20" fill="none" stroke="#fe0000" stroke-width="2.5" stroke-linejoin="round"/>
<path d="M297.20,271.60 C297.33,273.47 297.65,277.73 298.00,282.80 C298.35,287.87 298.90,296.13 299.30,302.00 C299.70,307.87 300.08,314.90 300.40,318.00 C300.72,321.10 300.80,320.60 301.20,320.60 C301.60,320.60 302.13,319.77 302.80,318.00 C303.47,316.23 304.40,313.20 305.20,310.00 C306.00,306.80 306.67,302.27 307.60,298.80 C308.53,295.33 309.47,292.13 310.80,289.20 C312.13,286.27 313.73,283.33 315.60,281.20 C317.47,279.07 319.60,277.60 322.00,276.40 C324.40,275.20 327.02,274.58 330.00,274.00 C332.98,273.42 335.73,273.20 339.90,272.90 C344.07,272.60 348.48,272.42 355.00,272.20 C361.52,271.98 375.00,271.70 379.00,271.60" fill="none" stroke="#000" stroke-width="2.6" stroke-linejoin="round"/>
<line x1="294.8" y1="276.8" x2="294.8" y2="286.6" stroke="#2233ee" stroke-width="1.6"/>
<path d="M335.3,299.8 L361.9,299.8 L361.9,281.9" fill="none" stroke="#000" stroke-width="1.9"/>
<text x="333.8" y="312.4" font-size="10.8" text-anchor="start" font-weight="normal" fill="#1a1a1a" textLength="27.6" lengthAdjust="spacingAndGlyphs" >50 ms</text>
<text transform="translate(368.3,295.7) rotate(90)" font-size="10.8" text-anchor="middle" fill="#1a1a1a">50 pA</text>
<path d="M386.80,271.90 C388.63,271.90 395.65,273.18 397.80,271.90 C399.95,270.62 399.08,267.95 399.70,264.20 C400.32,260.45 400.73,254.02 401.50,249.40 C402.27,244.78 403.22,240.20 404.30,236.50 C405.38,232.80 406.62,229.37 408.00,227.20 C409.38,225.03 411.22,223.87 412.60,223.50 C413.98,223.13 414.92,223.77 416.30,225.00 C417.68,226.23 418.58,228.07 420.90,230.90 C423.22,233.73 427.12,238.92 430.20,242.00 C433.28,245.08 436.33,247.25 439.40,249.40 C442.47,251.55 444.92,253.22 448.60,254.90 C452.28,256.58 456.52,258.17 461.50,259.50 C466.48,260.83 475.67,262.33 478.50,262.90" fill="none" stroke="#fe0000" stroke-width="2.5" stroke-linejoin="round"/>
<path d="M396.50,273.00 C396.58,274.93 396.82,279.90 397.00,284.60 C397.18,289.30 397.33,295.80 397.60,301.20 C397.87,306.60 398.32,313.95 398.60,317.00 C398.88,320.05 399.02,319.92 399.30,319.50 C399.58,319.08 399.87,317.55 400.30,314.50 C400.73,311.45 401.15,305.35 401.90,301.20 C402.65,297.05 403.35,293.05 404.80,289.60 C406.25,286.15 408.53,282.58 410.60,280.50 C412.67,278.42 414.72,277.93 417.20,277.10 C419.68,276.27 422.73,275.92 425.50,275.50 C428.27,275.08 429.72,274.92 433.80,274.60 C437.88,274.28 442.55,273.90 450.00,273.60 C457.45,273.30 473.75,272.93 478.50,272.80" fill="none" stroke="#000" stroke-width="2.6" stroke-linejoin="round"/>
<line x1="394.3" y1="277.1" x2="394.3" y2="286.3" stroke="#2233ee" stroke-width="1.6"/>
<path d="M435,306.8 L462.1,306.8 L462.1,288" fill="none" stroke="#000" stroke-width="1.9"/>
<text x="426" y="318.6" font-size="10.8" text-anchor="start" font-weight="normal" fill="#1a1a1a" textLength="28.2" lengthAdjust="spacingAndGlyphs" >50 ms</text>
<text transform="translate(469.5,299) rotate(90)" font-size="10.8" text-anchor="middle" fill="#1a1a1a">30 pA</text>
<text x="533.8" y="208.6" font-size="16.3" text-anchor="start" font-weight="normal" fill="#1a1a1a" textLength="23.4" lengthAdjust="spacingAndGlyphs" >MD</text>
<circle cx="563.6" cy="202.8" r="4.1" fill="#000"/>
<line x1="564" y1="202.8" x2="617" y2="202.8" stroke="#222" stroke-width="1.4"/>
<path d="M613,199.6 L618.6,202.8 L613,206" fill="none" stroke="#111" stroke-width="1.4"/>
<path d="M567,202.3 C576,201 584,197.5 590.5,192.8" fill="none" stroke="#111" stroke-width="1.4"/>
<path d="M586.2,192.2 L591.5,192.2 L589.6,197.2" fill="none" stroke="#111" stroke-width="1.4"/>
<circle cx="594.3" cy="189.5" r="4.3" fill="#fe0000"/>
<path d="M597.5,188.6 C606,187.3 614,189.5 618.3,195.2" fill="none" stroke="#fe0000" stroke-width="1.3"/>
<path d="M615.6,197.3 L621,193" stroke="#fe0000" stroke-width="1.3"/>
<text x="620.4" y="208.6" font-size="16.3" text-anchor="start" font-weight="normal" fill="#1a1a1a" textLength="28.6" lengthAdjust="spacingAndGlyphs" >BLA</text>
<line x1="545.4" y1="217.8" x2="545.4" y2="313.5" stroke="#1a1a1a" stroke-width="1.1"/>
<line x1="544.9" y1="312.9" x2="647.5" y2="312.9" stroke="#1a1a1a" stroke-width="1.3"/>
<line x1="543.4" y1="219.00" x2="545.4" y2="219.00" stroke="#1a1a1a" stroke-width="1"/>
<text x="539.8" y="223.10000000000002" font-size="11.5" text-anchor="end" font-weight="normal" fill="#1a1a1a" >2</text>
<line x1="543.4" y1="239.80" x2="545.4" y2="239.80" stroke="#1a1a1a" stroke-width="1"/>
<text x="539.8" y="243.9" font-size="11.5" text-anchor="end" font-weight="normal" fill="#1a1a1a" >1</text>
<line x1="543.4" y1="260.60" x2="545.4" y2="260.60" stroke="#1a1a1a" stroke-width="1"/>
<text x="539.8" y="264.70000000000005" font-size="11.5" text-anchor="end" font-weight="normal" fill="#1a1a1a" >0</text>
<line x1="543.4" y1="281.40" x2="545.4" y2="281.40" stroke="#1a1a1a" stroke-width="1"/>
<text x="539.8" y="285.50000000000006" font-size="11.5" text-anchor="end" font-weight="normal" fill="#1a1a1a" >−1</text>
<line x1="543.4" y1="302.20" x2="545.4" y2="302.20" stroke="#1a1a1a" stroke-width="1"/>
<text x="539.8" y="306.30000000000007" font-size="11.5" text-anchor="end" font-weight="normal" fill="#1a1a1a" >−2</text>
<text transform="translate(520.2,265.7) rotate(-90)" font-size="12" text-anchor="middle" fill="#1a1a1a">log<tspan font-size="8.5" dy="3">10</tspan><tspan dy="-3">[IPSC/EPSC]</tspan></text>
<line x1="573.1" y1="259.6" x2="573.1" y2="296.5" stroke="#f59f86" stroke-width="1.6"/>
<rect x="555.8" y="270.2" width="34.8" height="17.1" fill="#fde3d9" stroke="#f59f86" stroke-width="1.7"/>
<line x1="555.8" y1="279.7" x2="590.6" y2="279.7" stroke="#f59f86" stroke-width="2"/>
<line x1="619.8" y1="229.6" x2="619.8" y2="282.7" stroke="#2a5fa9" stroke-width="1.6"/>
<rect x="602.6" y="247.4" width="34.6" height="15.7" fill="#c8d7ec" stroke="#2a5fa9" stroke-width="1.7"/>
<line x1="602.6" y1="254.3" x2="637.2" y2="254.3" stroke="#2a5fa9" stroke-width="2"/>
<circle cx="574.2" cy="260.7" r="2.4" fill="none" stroke="#f59f86" stroke-width="1"/>
<circle cx="564.3" cy="268.8" r="2.4" fill="none" stroke="#f59f86" stroke-width="1"/>
<circle cx="569.6" cy="271.1" r="2.4" fill="none" stroke="#f59f86" stroke-width="1"/>
<circle cx="572.6" cy="268.8" r="2.4" fill="none" stroke="#f59f86" stroke-width="1"/>
<circle cx="574.2" cy="279.9" r="2.4" fill="none" stroke="#f59f86" stroke-width="1"/>
<circle cx="567.3" cy="286.1" r="2.4" fill="none" stroke="#f59f86" stroke-width="1"/>
<circle cx="570.8" cy="287.3" r="2.4" fill="none" stroke="#f59f86" stroke-width="1"/>
<circle cx="580" cy="285.4" r="2.4" fill="none" stroke="#f59f86" stroke-width="1"/>
<circle cx="579.5" cy="293" r="2.4" fill="none" stroke="#f59f86" stroke-width="1"/>
<circle cx="574.2" cy="296.5" r="2.4" fill="none" stroke="#f59f86" stroke-width="1"/>
<circle cx="571" cy="270" r="2.4" fill="none" stroke="#f59f86" stroke-width="1"/>
<circle cx="611.1" cy="229.6" r="2.4" fill="none" stroke="#2e6ab8" stroke-width="1"/>
<circle cx="621.5" cy="240" r="2.4" fill="none" stroke="#2e6ab8" stroke-width="1"/>
<circle cx="616.9" cy="248.1" r="2.4" fill="none" stroke="#2e6ab8" stroke-width="1"/>
<circle cx="622.6" cy="248.1" r="2.4" fill="none" stroke="#2e6ab8" stroke-width="1"/>
<circle cx="628.4" cy="246.9" r="2.4" fill="none" stroke="#2e6ab8" stroke-width="1"/>
<circle cx="628.4" cy="256.1" r="2.4" fill="none" stroke="#2e6ab8" stroke-width="1"/>
<circle cx="614.6" cy="251.5" r="2.4" fill="none" stroke="#2e6ab8" stroke-width="1"/>
<circle cx="622.6" cy="260.7" r="2.4" fill="none" stroke="#2e6ab8" stroke-width="1"/>
<circle cx="619.2" cy="263.1" r="2.4" fill="none" stroke="#2e6ab8" stroke-width="1"/>
<circle cx="622.6" cy="275.7" r="2.4" fill="none" stroke="#2e6ab8" stroke-width="1"/>
<circle cx="614.6" cy="283.8" r="2.4" fill="none" stroke="#2e6ab8" stroke-width="1"/>
<path d="M573.1,252.5 L573.1,221.3 L620.1,221.3 L620.1,225.9" fill="none" stroke="#222" stroke-width="1.1"/>
<polygon points="591.70,212.70 592.32,214.45 594.17,214.50 592.70,215.62 593.23,217.40 591.70,216.35 590.17,217.40 590.70,215.62 589.23,214.50 591.08,214.45" fill="#111"/>
<polygon points="596.60,212.70 597.22,214.45 599.07,214.50 597.60,215.62 598.13,217.40 596.60,216.35 595.07,217.40 595.60,215.62 594.13,214.50 595.98,214.45" fill="#111"/>
<polygon points="601.50,212.70 602.12,214.45 603.97,214.50 602.50,215.62 603.03,217.40 601.50,216.35 599.97,217.40 600.50,215.62 599.03,214.50 600.88,214.45" fill="#111"/>
<text x="573.1" y="324.1" font-size="12" text-anchor="middle" font-weight="normal" fill="#1a1a1a" >CS</text>
<text x="622.4" y="324.1" font-size="12" text-anchor="middle" font-weight="normal" fill="#1a1a1a" textLength="52.5" lengthAdjust="spacingAndGlyphs" >ABS + CS</text>
</svg>
</body></html>
